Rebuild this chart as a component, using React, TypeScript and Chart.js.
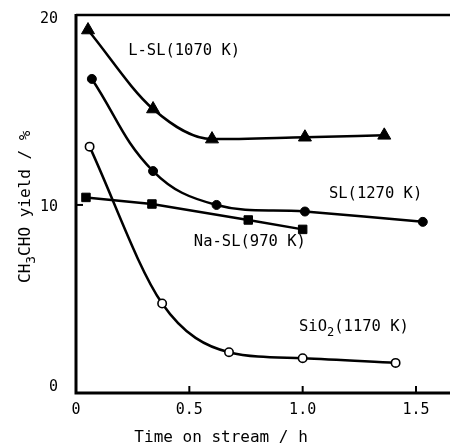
import React, { useEffect, useRef } from "react";
import { Chart, registerables } from "chart.js";
Chart.register(...registerables);

// Time on stream (h) and CH3CHO yield (%)
const lslX = [0.053, 0.34, 0.6, 1.01, 1.36];
const lslY = [19.3, 15.1, 13.5, 13.6, 13.7];
const slX = [0.07, 0.34, 0.62, 1.01, 1.53];
const slY = [16.7, 11.8, 10.0, 9.65, 9.1];
const naX = [0.044, 0.335, 0.76, 1.0];
const naY = [10.4, 10.05, 9.2, 8.7];
const sioX = [0.06, 0.38, 0.675, 1.0, 1.41];
const sioY = [13.1, 4.76, 2.17, 1.85, 1.6];

const xTicks = [0, 0.5, 1.0, 1.5];
const xTickLabels = ["0", "0.5", "1.0", "1.5"];
const yTicks = [0, 10, 20];
const yTickLabels = ["0", "10", "20"];

// series labels: [text, isSubscript] parts
const lslName: [string, boolean][] = [["L-SL(1070 K)", false]];
const slName: [string, boolean][] = [["SL(1270 K)", false]];
const naName: [string, boolean][] = [["Na-SL(970 K)", false]];
const sioName: [string, boolean][] = [["SiO", false], ["2", true], ["(1170 K)", false]];
const xTitle: [string, boolean][] = [["Time on stream / h", false]];
const yTitle: [string, boolean][] = [["CH", false], ["3", true], ["CHO yield / %", false]];

const FONT = '"DejaVu Sans Mono", monospace';

function pts(xs: number[], ys: number[]) {
  return xs.map((x, i) => ({ x, y: ys[i] }));
}

function drawRich(ctx: CanvasRenderingContext2D, parts: [string, boolean][], x: number, y: number, size: number, align: "left" | "center" | "right") {
  const mainFont = `${size}px ${FONT}`;
  const subFont = `${Math.round(size * 0.8)}px ${FONT}`;
  let total = 0;
  for (const [t, sub] of parts) {
    ctx.font = sub ? subFont : mainFont;
    total += ctx.measureText(t).width;
  }
  let cx = align === "center" ? x - total / 2 : align === "right" ? x - total : x;
  ctx.textAlign = "left";
  ctx.textBaseline = "middle";
  for (const [t, sub] of parts) {
    ctx.font = sub ? subFont : mainFont;
    ctx.fillText(t, cx, sub ? y + size * 0.35 : y);
    cx += ctx.measureText(t).width;
  }
}

const framePlugin = {
  id: "frame",
  afterDraw(chart: any) {
    const { ctx, chartArea } = chart;
    const xs = chart.scales.x;
    const ys = chart.scales.y;
    const { left, right, top, bottom } = chartArea;
    ctx.save();
    ctx.strokeStyle = "#000";
    ctx.fillStyle = "#000";
    ctx.lineCap = "butt";
    // axes
    ctx.lineWidth = 3;
    ctx.beginPath();
    ctx.moveTo(left, top - 1);
    ctx.lineTo(left, bottom);
    ctx.lineTo(right, bottom);
    ctx.stroke();
    ctx.lineWidth = 2.5;
    ctx.beginPath();
    ctx.moveTo(left, top);
    ctx.lineTo(right, top);
    ctx.stroke();
    // inward ticks
    ctx.lineWidth = 2;
    for (const v of xTicks) {
      if (v === 0) continue;
      const px = xs.getPixelForValue(v);
      ctx.beginPath();
      ctx.moveTo(px, bottom);
      ctx.lineTo(px, bottom - 7);
      ctx.stroke();
    }
    for (const v of yTicks) {
      if (v === 0 || v === 20) continue;
      const py = ys.getPixelForValue(v);
      ctx.beginPath();
      ctx.moveTo(left, py);
      ctx.lineTo(left + 7, py);
      ctx.stroke();
    }
    // tick labels
    xTicks.forEach((v, i) => {
      drawRich(ctx, [[xTickLabels[i], false]], xs.getPixelForValue(v), bottom + 17, 15, "center");
    });
    yTicks.forEach((v, i) => {
      const py = Math.min(ys.getPixelForValue(v) + 2, bottom - 6);
      drawRich(ctx, [[yTickLabels[i], false]], left - 18, py, 15, "right");
    });
    // series labels
    drawRich(ctx, lslName, xs.getPixelForValue(0.23), ys.getPixelForValue(18.2), 15.5, "left");
    drawRich(ctx, slName, xs.getPixelForValue(1.116), ys.getPixelForValue(10.6), 15.5, "left");
    drawRich(ctx, naName, xs.getPixelForValue(0.52), ys.getPixelForValue(8.04), 15.5, "left");
    drawRich(ctx, sioName, xs.getPixelForValue(0.984), ys.getPixelForValue(3.5), 15.5, "left");
    // axis titles
    drawRich(ctx, xTitle, xs.getPixelForValue(0.64), bottom + 45, 16, "center");
    ctx.save();
    ctx.translate(26, ys.getPixelForValue(9.9));
    ctx.rotate(-Math.PI / 2);
    drawRich(ctx, yTitle, 0, 0, 16, "center");
    ctx.restore();
    ctx.restore();
  },
};

export default function App() {
  const ref = useRef<HTMLCanvasElement | null>(null);
  useEffect(() => {
    if (!ref.current) return;
    const common = { borderColor: "#000", borderWidth: 2.5, pointBorderColor: "#000", showLine: true };
    const chart = new Chart(ref.current, {
      type: "scatter",
      data: {
        datasets: [
          { ...common, label: "L-SL", data: pts(lslX, lslY), cubicInterpolationMode: "monotone", pointStyle: "triangle", pointRadius: 7.5, pointBackgroundColor: "#000", pointBorderWidth: 1 },
          { ...common, label: "SL", data: pts(slX, slY), tension: 0.4, pointStyle: "circle", pointRadius: 4.5, pointBackgroundColor: "#000", pointBorderWidth: 1 },
          { ...common, label: "Na-SL", data: pts(naX, naY), tension: 0, pointStyle: "rect", pointRadius: 6, pointBackgroundColor: "#000", pointBorderWidth: 1 },
          { ...common, label: "SiO2", data: pts(sioX, sioY), cubicInterpolationMode: "monotone", pointStyle: "circle", pointRadius: 4.2, pointBackgroundColor: "#fff", pointBorderWidth: 1.6 },
        ] as any,
      },
      options: {
        responsive: false,
        animation: false,
        devicePixelRatio: 1,
        layout: { autoPadding: false, padding: { top: 15, left: 0, right: 0, bottom: 0 } },
        plugins: { legend: { display: false }, tooltip: { enabled: false } },
        scales: {
          x: {
            type: "linear",
            min: 0,
            max: 1.65,
            grid: { display: false, drawTicks: false },
            border: { display: false },
            afterBuildTicks: (s: any) => { s.ticks = xTicks.map((v) => ({ value: v })); },
            afterFit: (s: any) => { s.height = 54; s.paddingLeft = 0; s.paddingRight = 0; },
            ticks: { display: false },
          },
          y: {
            type: "linear",
            min: 0,
            max: 20.1,
            grid: { display: false, drawTicks: false },
            border: { display: false },
            afterBuildTicks: (s: any) => { s.ticks = yTicks.map((v) => ({ value: v })); },
            afterFit: (s: any) => { s.width = 76; s.paddingTop = 0; s.paddingBottom = 0; },
            ticks: { display: false },
          },
        },
      } as any,
      plugins: [framePlugin],
    });
    return () => chart.destroy();
  }, []);
  return (
    <div style={{ position: "absolute", left: 0, top: 0, width: 450, height: 447, background: "#fff" }}>
      <canvas ref={ref} width={450} height={447} />
    </div>
  );
}
